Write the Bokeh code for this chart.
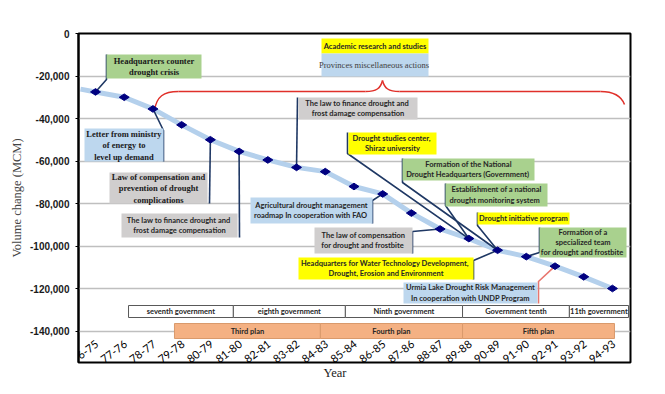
import numpy as np
from bokeh.plotting import figure
from bokeh.models import Range1d, FixedTicker, NumeralTickFormatter, Title
from bokeh.embed import file_html
from bokeh.resources import INLINE
from bokeh.core.properties import value

# ---------------- data ----------------
years = ["76-75", "77-76", "78-77", "79-78", "80-79", "81-80", "82-81", "83-82",
         "84-83", "85-84", "86-85", "87-86", "88-87", "89-88", "90-89", "91-90",
         "92-91", "93-92", "94-93"]
volume = [-27500, -30000, -35500, -43000, -50000, -55500, -59500, -63000, -65000,
          -72000, -75500, -84500, -92000, -96500, -102000, -105000, -109500,
          -114500, -120000]
y_ticks = [0, -20000, -40000, -60000, -80000, -100000, -120000, -140000]

governments = ["seventh government", "eighth government", "Ninth government",
               "Government tenth", "11th government"]
gov_start = [1.15, 4.80, 8.70, 12.78, 16.50]
gov_end = [4.80, 8.70, 12.78, 16.50, 18.56]

plans = ["Third plan", "Fourth plan", "Fifth plan"]
plan_start = [2.75, 7.83, 12.78]
plan_end = [7.83, 12.78, 18.07]

# ---------------- layout helpers (page px -> data units) ----------------
PX0, PXU = 95.0, 28.72          # page x of first category, px per category
PY0, PYU = 33.0, 2.125 / 1000   # page y of value 0, px per unit value


def X(px):
    return (px - PX0) / PXU


def Y(py):
    return -(py - PY0) / PYU


p = figure(width=657, height=386, frame_width=552, frame_height=329,
           min_border_left=78, min_border_right=27, min_border_top=33,
           min_border_bottom=24, output_backend="svg", toolbar_location=None,
           x_range=Range1d(X(78), X(630)), y_range=Range1d(Y(362), 0))
p.background_fill_color = "white"
p.border_fill_color = "white"
p.outline_line_color = "black"
p.outline_line_width = 2

p.xaxis.visible = False
p.xgrid.visible = False
p.ygrid.grid_line_color = "#BFBFBF"
p.ygrid.grid_line_width = 1.5
p.yaxis.ticker = FixedTicker(ticks=y_ticks)
p.yaxis.formatter = NumeralTickFormatter(format="0,0")
p.yaxis.major_label_text_font = "Liberation Sans"
p.yaxis.major_label_text_font_style = "bold"
p.yaxis.major_label_text_font_size = "10px"
p.yaxis.major_label_text_color = "#1a1a1a"
p.yaxis.axis_line_width = 2
p.yaxis.axis_line_color = "black"
p.yaxis.major_tick_out = 3
p.yaxis.major_tick_in = 0
p.yaxis.minor_tick_line_color = None
p.yaxis.major_label_standoff = 6
p.yaxis.axis_label = "Volume change (MCM)"
p.yaxis.axis_label_text_font = "Liberation Serif"
p.yaxis.axis_label_text_font_style = "normal"
p.yaxis.axis_label_text_font_size = "12.5px"
p.yaxis.axis_label_standoff = 3

# government & plan bars
p.quad(left=gov_start, right=gov_end, top=Y(305), bottom=Y(317),
       fill_color="white", line_color="#595959", line_width=1)
p.text(x=[(a + b) / 2 for a, b in zip(gov_start, gov_end)], y=Y(311), text=governments,
       text_align="center", text_baseline="middle", text_font=value("Lato"),
       text_font_style="bold", text_font_size="7.5px", text_color="#262626")
p.quad(left=plan_start, right=plan_end, top=Y(323), bottom=Y(338),
       fill_color="#F4B183", line_color="#D99A6C", line_width=1)
p.text(x=[(a + b) / 2 for a, b in zip(plan_start, plan_end)], y=Y(330.5), text=plans,
       text_align="center", text_baseline="middle", text_font=value("Lato"),
       text_font_style="bold", text_font_size="7.5px", text_color="#262626")

# category labels
idx = list(range(len(years)))
p.text(x=[i + 0.05 for i in idx], y=Y(342), text=years, angle=0.65,
       text_align="right", text_baseline="middle", text_font=value("Lato"),
       text_font_size="11px", text_color="black")

# series line (with extension to left edge along first segment)
x_ext = X(80)
y_ext = volume[0] + (volume[1] - volume[0]) * (x_ext - idx[0])
p.line([x_ext] + idx, [y_ext] + volume, line_color="#B4D0EC", line_width=5)

# red brace
RED = "#E0302A"
p.bezier(x0=[X(154), X(365), X(382), X(600)], y0=[Y(110), Y(91), Y(80), Y(91)],
         x1=[X(178), X(382), X(399), X(624)], y1=[Y(91), Y(80), Y(91), Y(104)],
         cx0=[X(156), X(376), X(384), X(614)], cy0=[Y(96), Y(91), Y(88), Y(91)],
         cx1=[X(163), X(380), X(388), X(621)], cy1=[Y(91), Y(88), Y(91), Y(96)],
         line_color=RED, line_width=1.5)
p.segment(x0=[X(178), X(399)], y0=[Y(91), Y(91)], x1=[X(365), X(600)], y1=[Y(91), Y(91)],
          line_color=RED, line_width=1.5)

GREEN, BLUE, GRAY, YELLOW = "#A9D18E", "#BDD7EE", "#D0CECE", "#FFFF00"
NAVY = "#1F3864"
SERIF, SANS = "Liberation Serif", "Lato"

# (text, (l, t, r, b), fill, font, size, style, color, connector path, point index, line color)
notes = [
    ("Headquarters counter\ndrought crisis", (106, 54, 201, 78), GREEN, SERIF, 8.5, "bold", "#1a1a1a",
     [(106, 54), (106, 79)], 0, NAVY),
    ("Letter from ministry\nof energy to\nlevel up demand", (84, 128, 163, 161), BLUE, SERIF, 8.5, "bold", "#1a1a1a",
     [(163, 161), (163, 130)], 2, NAVY),
    ("Law of compensation and\nprevention of drought\ncomplications", (109, 172, 207, 203), GRAY, SERIF, 8.5, "bold", "#1a1a1a",
     [(209, 203)], 4, NAVY),
    ("The law to finance drought  and\nfrost damage compensation", (121, 213, 237, 237), GRAY, SANS, 7.5, "bold", "#262626",
     [(239, 237)], 5, NAVY),
    ("The law to finance drought  and\nfrost damage compensation", (298, 97, 417, 119), GRAY, SANS, 7.5, "bold", "#262626",
     [(297, 97)], 7, NAVY),
    ("Drought studies  center,\nShiraz university", (348, 132, 436, 154), YELLOW, SANS, 7.5, "bold", "#262626",
     [(347, 132), (347, 153)], 13, NAVY),
    ("Formation of the National\nDrought Headquarters  (Government)", (402, 158, 534, 180), GREEN, SANS, 7.5, "bold", "#262626",
     [(402, 158), (402, 182)], 14, NAVY),
    ("Establishment of a national\ndrought  monitoring  system", (445, 183, 547, 206), GREEN, SANS, 7.5, "bold", "#262626",
     [(445, 183), (445, 205)], 13, NAVY),
    ("Drought initiative program", (477, 212, 569, 224), YELLOW, SANS, 7.5, "bold", "#262626",
     [(477, 212), (477, 225)], 14, NAVY),
    ("Formation of a\nspecialized team\nfor drought  and frostbite", (539, 227, 626, 257), GREEN, SANS, 7.5, "bold", "#262626",
     [(539, 227), (539, 252)], 15, NAVY),
    ("Agricultural drought management\nroadmap In cooperation  with FAO", (250, 197, 372, 223), BLUE, SANS, 7.5, "bold", "#262626",
     [(372, 223), (372, 200)], 10, NAVY),
    ("The law of compensation\nfor drought  and frostbite", (314, 227, 412, 253), GRAY, SANS, 7.5, "bold", "#262626",
     [(412, 253), (412, 231)], 12, NAVY),
    ("Headquarters for Water Technology  Development,\nDrought, Erosion and Environment", (298, 257, 473, 279), YELLOW, SANS, 7.5, "bold", "#262626",
     [(473, 279), (473, 260)], 14, NAVY),
    ("Urmia Lake Drought Risk Management\nIn cooperation with UNDP Program", (403, 282, 537, 303), BLUE, SANS, 7.5, "bold", "#262626",
     [(538, 303), (538, 281)], 16, "#E8766F"),
    ("Academic research and studies", (321, 38, 428, 53), YELLOW, SANS, 7.5, "bold", "#262626",
     None, None, None),
    ("Provinces miscellaneous  actions", (321, 53, 428, 76), BLUE, SERIF, 8.5, "normal", "#404040",
     None, None, None),
]

# connectors first
for txt, box, fill, font, size, style, col, path, pi, lc in notes:
    if path is None:
        continue
    xs = [X(a) for a, b in path] + [idx[pi]]
    ys = [Y(b) for a, b in path] + [volume[pi]]
    p.line(xs, ys, line_color=lc, line_width=1.6)

# data points
p.scatter(idx, volume, marker="diamond", size=10, angle=np.pi / 2,
          fill_color="#000080", line_color="#000080")

# boxes & texts
for txt, box, fill, font, size, style, col, path, pi, lc in notes:
    l, t, r, b = box
    p.quad(left=X(l), right=X(r), top=Y(t), bottom=Y(b), fill_color=fill, line_color=None)
    p.text(x=X((l + r) / 2), y=Y((t + b) / 2), text=[txt], text_align="center",
           text_baseline="middle", text_font=value(font), text_font_style=style,
           text_font_size=f"{size}px", text_color=col, text_line_height=1.15)

p.add_layout(Title(text="Year", align="left", offset=245, standoff=2,
                   text_font="Liberation Serif", text_font_style="normal",
                   text_font_size="12.5px", text_color="#1a1a1a"), "below")

open("out.html", "w").write(file_html(p, INLINE))
